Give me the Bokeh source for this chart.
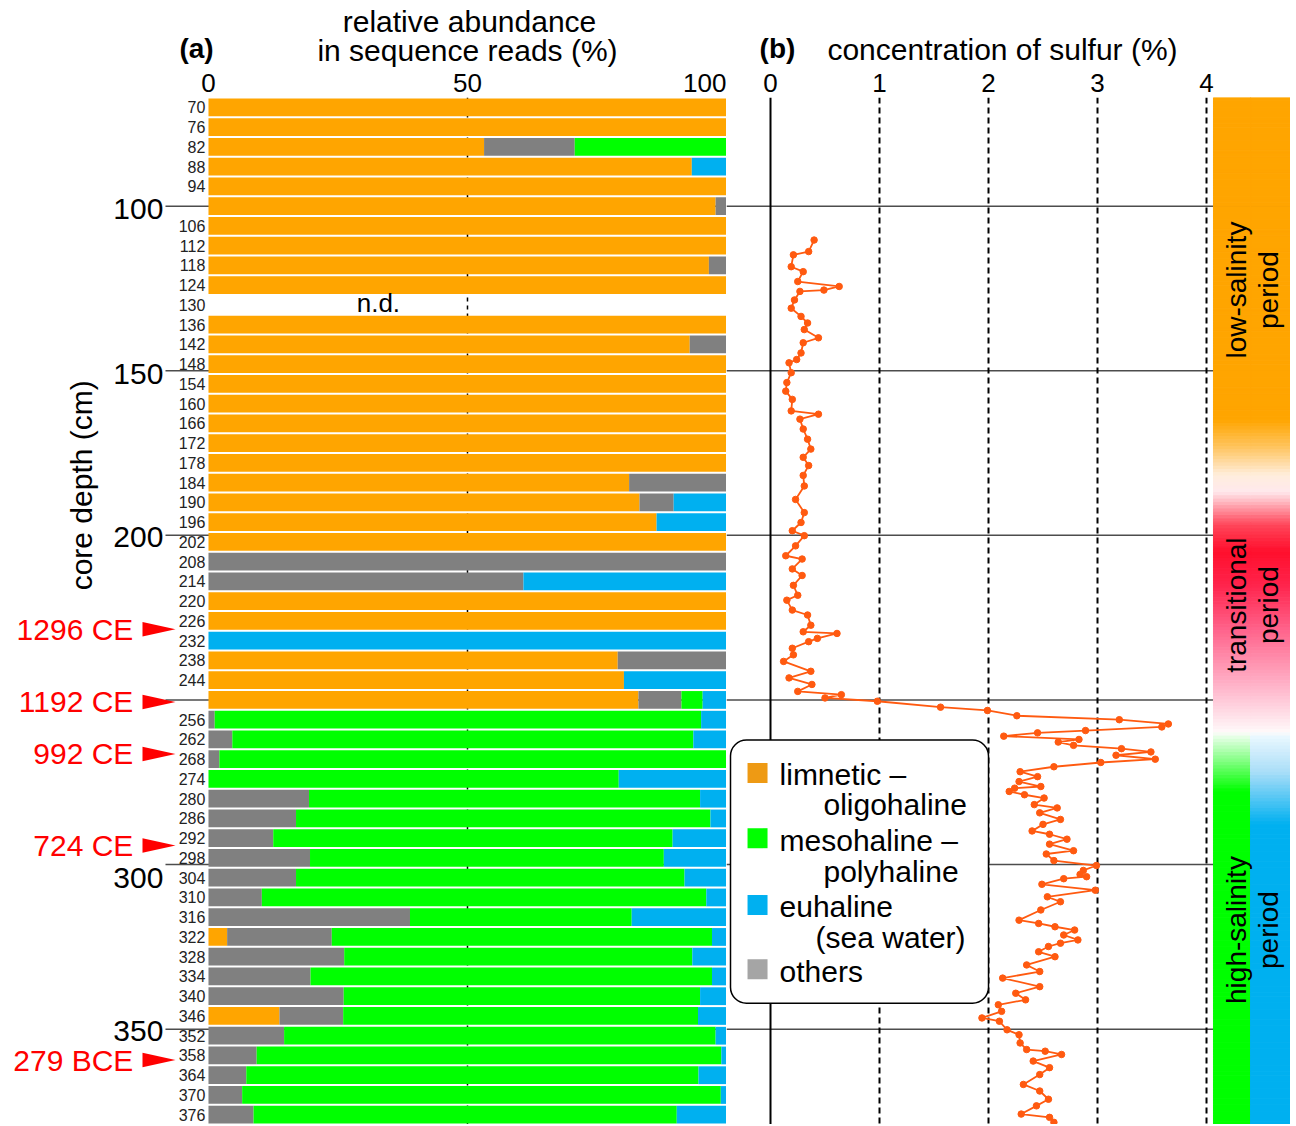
import numpy as np
from bokeh.plotting import figure
from bokeh.layouts import row, column
from bokeh.models import (Range1d, FixedTicker, Span, BoxAnnotation, ColumnDataSource)
from bokeh.core.properties import value
from bokeh.embed import file_html
from bokeh.resources import INLINE

FONT = "Liberation Sans"

# ---------------- data ----------------
depths = [70, 76, 82, 88, 94, 100, 106, 112, 118, 124,
          130, 136, 142, 148, 154, 160, 166, 172, 178, 184,
          190, 196, 202, 208, 214, 220, 226, 232, 238, 244,
          250, 256, 262, 268, 274, 280, 286, 292, 298, 304,
          310, 316, 322, 328, 334, 340, 346, 352, 358, 364,
          370, 376]
limnetic = [100, 100, 53.2, 93.3, 100, 97.9, 100, 100, 96.6, 100,
            0, 100, 92.9, 100, 100, 100, 100, 100, 100, 81.2,
            83.2, 86.5, 100, 0, 0, 100, 100, 0, 79.0, 80.2,
            83.0, 0, 0, 0, 0, 0, 0, 0, 0, 0,
            0, 0, 3.6, 0, 0, 0, 13.7, 0, 0, 0,
            0, 0]
others = [0, 0, 17.5, 0, 0, 2.1, 0, 0, 3.4, 0,
          0, 0, 7.1, 0, 0, 0, 0, 0, 0, 18.8,
          6.6, 0, 0, 100, 60.8, 0, 0, 0, 21.0, 0,
          8.3, 1.2, 4.6, 2.1, 0, 19.4, 16.9, 12.5, 19.6, 16.9,
          10.3, 38.9, 20.2, 26.2, 19.7, 26.1, 12.3, 14.6, 9.3, 7.3,
          6.5, 8.7]
mesohaline = [0, 0, 29.3, 0, 0, 0, 0, 0, 0, 0,
              0, 0, 0, 0, 0, 0, 0, 0, 0, 0,
              0, 0, 0, 0, 0, 0, 0, 0, 0, 0,
              4.1, 93.9, 89.0, 97.9, 79.2, 75.5, 80.0, 77.1, 68.3, 75.0,
              85.8, 42.8, 73.4, 67.2, 77.5, 68.8, 68.5, 83.3, 89.7, 87.3,
              92.4, 81.7]
euhaline = [0, 0, 0, 6.7, 0, 0, 0, 0, 0, 0,
            0, 0, 0, 0, 0, 0, 0, 0, 0, 0,
            10.2, 13.5, 0, 0, 39.2, 0, 0, 100, 0, 19.8,
            4.6, 4.9, 6.4, 0, 20.8, 5.1, 3.1, 10.4, 12.1, 8.1,
            3.9, 18.3, 2.8, 6.6, 2.8, 5.1, 5.5, 2.1, 1.0, 5.4,
            1.1, 9.6]

bar_tick_labels = ["70", "76", "82", "88", "94", "106", "112", "118", "124", "130",
                   "136", "142", "148", "154", "160", "166", "172", "178", "184", "190",
                   "196", "202", "208", "214", "220", "226", "232", "238", "244", "256",
                   "262", "268", "274", "280", "286", "292", "298", "304", "310", "316",
                   "322", "328", "334", "340", "346", "352", "358", "364", "370", "376"]
bar_tick_depths = [int(s) for s in bar_tick_labels]
nd_depth = [130]
depth_tick_labels = ["100", "150", "200", "300", "350"]
depth_ticks = [100, 150, 200, 300, 350]
depth_label_shift = [1.0, 1.0, 0.5, 4.0, 0.7]
boundary_depths = [100, 150, 200, 250, 300, 350]
abundance_ticks = [0, 50, 100]
sulfur_ticks = [0, 1, 2, 3, 4]

sulfur_depth = [110.3, 113.8, 114.8, 118.4, 119.9, 122.9, 124.4, 125.5, 125.9, 128.5,
                131.0, 133.5, 135.5, 137.5, 140.0, 141.5, 144.6, 146.6, 147.6, 150.6,
                153.6, 156.2, 158.7, 162.2, 163.2, 164.7, 167.7, 170.8, 173.8, 176.3,
                178.8, 181.8, 185.0, 189.1, 193.1, 196.1, 198.6, 200.1, 203.2, 206.2,
                207.2, 210.2, 212.2, 215.2, 218.2, 219.7, 222.7, 224.2, 227.3, 229.3,
                229.8, 231.3, 232.3, 234.3, 236.3, 238.3, 241.3, 243.3, 245.3, 247.4,
                248.4, 249.4, 250.4, 252.2, 253.2, 254.8, 256.0, 257.3, 258.2, 259.3,
                260.0, 261.0, 262.0, 262.8, 263.8, 264.8, 265.8, 266.8, 268.0, 269.0,
                270.3, 271.8, 273.3, 274.8, 276.3, 276.8, 277.8, 278.8, 279.8, 281.8,
                282.8, 284.3, 286.3, 287.8, 289.8, 290.8, 292.3, 293.8, 295.8, 296.8,
                298.8, 300.3, 301.8, 303.0, 303.7, 304.3, 306.0, 307.8, 309.8, 311.3,
                313.8, 316.9, 317.9, 318.9, 319.9, 321.4, 322.9, 323.9, 324.9, 326.5,
                328.0, 330.5, 332.5, 334.5, 337.1, 339.1, 341.1, 342.6, 344.6, 346.6,
                347.6, 350.2, 351.7, 354.2, 356.2, 356.7, 357.7, 359.7, 361.7, 363.8,
                366.8, 368.8, 371.3, 373.3, 375.8, 376.8, 378.3]
sulfur_conc = [0.40, 0.35, 0.21, 0.19, 0.30, 0.25, 0.63, 0.49, 0.27, 0.22,
               0.19, 0.28, 0.34, 0.31, 0.44, 0.30, 0.28, 0.24, 0.17, 0.19,
               0.15, 0.14, 0.20, 0.19, 0.44, 0.27, 0.30, 0.34, 0.37, 0.30,
               0.35, 0.30, 0.31, 0.23, 0.31, 0.28, 0.20, 0.31, 0.23, 0.14,
               0.29, 0.20, 0.29, 0.21, 0.25, 0.15, 0.20, 0.34, 0.37, 0.30,
               0.61, 0.43, 0.35, 0.20, 0.21, 0.12, 0.37, 0.17, 0.38, 0.25,
               0.65, 0.50, 0.98, 1.56, 1.99, 2.26, 3.20, 3.65, 3.59, 2.89,
               2.45, 2.14, 2.83, 2.64, 2.78, 3.22, 3.49, 3.17, 3.53, 3.03,
               2.60, 2.29, 2.45, 2.28, 2.48, 2.24, 2.19, 2.33, 2.51, 2.42,
               2.63, 2.47, 2.66, 2.50, 2.40, 2.56, 2.72, 2.56, 2.78, 2.53,
               2.60, 2.99, 2.87, 2.84, 2.90, 2.69, 2.49, 2.98, 2.54, 2.66,
               2.48, 2.28, 2.46, 2.61, 2.79, 2.69, 2.82, 2.66, 2.55, 2.46,
               2.61, 2.35, 2.47, 2.13, 2.47, 2.25, 2.34, 2.09, 2.12, 1.94,
               2.10, 2.17, 2.28, 2.29, 2.35, 2.52, 2.67, 2.41, 2.56, 2.47,
               2.32, 2.47, 2.55, 2.44, 2.30, 2.56, 2.60]

event_labels = ["1296 CE", "1192 CE", "992 CE", "724 CE", "279 BCE"]
event_depths = [228.5, 250.6, 266.4, 294.2, 359.4]

legend_names = ["limnetic \u2013", "mesohaline \u2013", "euhaline", "others"]
legend_second = ["oligohaline", "polyhaline", "(sea water)"]
period_labels = ["low-salinity\nperiod", "transitional\nperiod", "high-salinity\nperiod"]
period_centers = [125.5, 221.2, 319.9]

C_LIM, C_OTH, C_MES, C_EUH = "#FFA500", "#808080", "#00FF00", "#00B0F0"
C_S = "#FF5A10"

HEADER_H = 68
TOP_BORDER = 29
FRAME_H = 1027

# ---------------- shared depth range ----------------
yr = Range1d(start=67 + FRAME_H / 3.292, end=67)


def clean(p):
    p.outline_line_color = None
    p.grid.visible = False
    p.background_fill_color = "white"
    p.border_fill_color = "white"


def style_axis(ax, size):
    ax.axis_line_color = None
    ax.major_tick_line_color = None
    ax.minor_tick_line_color = None
    ax.major_label_text_font = FONT
    ax.major_label_text_font_size = size
    ax.major_label_text_color = "black"
    ax.major_label_standoff = 0


def txt(p, x, y, t, size="30px", align="center", baseline="middle", color="black",
        style="normal", angle=0.0, font=FONT, lh=1.2):
    p.text(x=x, y=y, text=t, text_align=align, text_baseline=baseline,
           text_font=value(font), text_font_size=size, text_color=color,
           text_font_style=style, angle=angle, text_line_height=lh)


# ---------------- header (titles) ----------------
ph = figure(width=1290, height=HEADER_H, x_range=Range1d(0, 1290), y_range=Range1d(HEADER_H, 0),
            toolbar_location=None, output_backend="svg", min_border=0,
            x_axis_location=None, y_axis_location=None)
clean(ph)
txt(ph, [469], [21], ["relative abundance"])
txt(ph, [467], [50], ["in sequence reads (%)"])
txt(ph, [196], [48], ["(a)"], size="28px", style="bold")
txt(ph, [777], [48], ["(b)"], size="28px", style="bold")
txt(ph, [1002], [49], ["concentration of sulfur (%)"])

# ---------------- panel (a) ----------------
pL = figure(frame_width=726, frame_height=FRAME_H, x_range=Range1d(-40.15, 100), y_range=yr,
            x_axis_location="above", y_axis_location=None,
            toolbar_location=None, output_backend="svg",
            min_border_left=0, min_border_right=0, min_border_top=TOP_BORDER, min_border_bottom=0)
clean(pL)
style_axis(pL.xaxis[0], "26px")
pL.xaxis[0].ticker = FixedTicker(ticks=abundance_ticks)

pL.add_layout(Span(location=50, dimension="height", line_color="black",
                   line_width=1.5, line_dash="4 4", level="underlay"))
pL.segment(x0=[-8.30] * len(boundary_depths), x1=[100] * len(boundary_depths),
           y0=boundary_depths, y1=boundary_depths, line_color="#4d4d4d", line_width=1.5)

src = ColumnDataSource(dict(depth=depths, lim=limnetic, oth=others,
                            mes=mesohaline, euh=euhaline))
pL.hbar_stack(["lim", "oth", "mes", "euh"], y="depth", height=5.4,
              fill_color=[C_LIM, C_OTH, C_MES, C_EUH], line_color=None, source=src)

txt(pL, [-0.6] * len(bar_tick_depths), bar_tick_depths, bar_tick_labels,
    size="16px", align="right", color="#222222")
txt(pL, [32.8], [d - 0.5 for d in nd_depth], ["n.d."], size="26px")
txt(pL, [-8.7] * len(depth_ticks), [d + s for d, s in zip(depth_ticks, depth_label_shift)],
    depth_tick_labels, size="30px", align="right")
txt(pL, [-24.6], [184.8], ["core depth (cm)"], angle=np.pi / 2)

txt(pL, [-14.5] * len(event_labels), event_depths, event_labels, align="right", color="#FF0000")
pL.patches(xs=[[-12.74, -12.74, -6.37] for _ in event_depths],
           ys=[[d - 2.2, d + 2.2, d] for d in event_depths],
           fill_color="#FF0000", line_color=None)

# ---------------- panel (b) + band ----------------
pR = figure(frame_width=564, frame_height=FRAME_H, x_range=Range1d(-0.4037, 4.7706), y_range=yr,
            x_axis_location="above", y_axis_location=None,
            toolbar_location=None, output_backend="svg",
            min_border_left=0, min_border_right=0, min_border_top=TOP_BORDER, min_border_bottom=0)
clean(pR)
style_axis(pR.xaxis[0], "26px")
pR.xaxis[0].ticker = FixedTicker(ticks=sulfur_ticks)

for d in boundary_depths:
    pR.add_layout(Span(location=d, dimension="width", line_color="#4d4d4d",
                       line_width=1.5, level="underlay"))
pR.add_layout(Span(location=0, dimension="height", line_color="black",
                   line_width=2, level="underlay"))
for s in sulfur_ticks[1:]:
    pR.add_layout(Span(location=s, dimension="height", line_color="black",
                       line_width=2, line_dash="6 4", level="underlay"))

# legend
pR.add_layout(BoxAnnotation(left=-0.367, right=2.0, top=262.2, bottom=342.1,
                            fill_color="white", fill_alpha=1.0, line_color="black",
                            line_alpha=1.0, line_width=1.5, border_radius=16, level="underlay"))
pR.scatter(x=[-0.119] * 4, y=[272.2, 292.0, 312.3, 331.8], marker="square", size=20,
           fill_color=["#EE9A14", C_MES, C_EUH, "#A5A5A5"], line_color=None)
txt(pR, [0.083] * 4, [272.8, 292.6, 312.6, 332.4], legend_names, align="left")
txt(pR, [0.486, 0.486, 0.413], [281.9, 302.0, 322.1], legend_second, align="left")

# sulfur curve
pR.line(x=sulfur_conc, y=sulfur_depth, line_color=C_S, line_width=1.8)
pR.scatter(x=sulfur_conc, y=sulfur_depth, size=6.5, fill_color=C_S, line_color=C_S)

# salinity band (colour gradient = styling)
top_stops = [(67, 255, 165, 0), (165, 255, 165, 0), (173, 255, 195, 90), (182, 255, 238, 222),
             (187, 255, 232, 236), (197, 255, 70, 90), (205, 255, 15, 45), (215, 255, 35, 75),
             (229, 255, 100, 140), (247, 255, 185, 205), (260, 255, 250, 250)]
green_stops = top_stops + [(261, 235, 255, 235), (268, 140, 255, 140), (278, 0, 255, 0), (390, 0, 255, 0)]
blue_stops = top_stops + [(261, 235, 248, 255), (272, 170, 222, 248), (288, 0, 176, 240), (390, 0, 176, 240)]

edges = np.linspace(67, yr.start, 313)
mids = 0.5 * (edges[:-1] + edges[1:])


def hexcols(stops):
    st = np.array(stops, float)
    r = np.interp(mids, st[:, 0], st[:, 1]).round().astype(int)
    g = np.interp(mids, st[:, 0], st[:, 2]).round().astype(int)
    b = np.interp(mids, st[:, 0], st[:, 3]).round().astype(int)
    return ["#%02x%02x%02x" % (a, bb, c) for a, bb, c in zip(r, g, b)]


gc = hexcols(green_stops)
bc = hexcols(blue_stops)
pR.quad(left=[4.064] * len(mids), right=[4.404] * len(mids), top=edges[:-1], bottom=edges[1:],
        fill_color=gc, line_color=gc, line_width=1)
pR.quad(left=[4.404] * len(mids), right=[4.7706] * len(mids), top=edges[:-1], bottom=edges[1:],
        fill_color=bc, line_color=bc, line_width=1)

txt(pR, [4.42] * 3, period_centers, period_labels, size="28px", angle=np.pi / 2, lh=1.05)

layout = column(ph, row(pL, pR, spacing=0), spacing=0)
open("out.html", "w").write(file_html(layout, INLINE))
